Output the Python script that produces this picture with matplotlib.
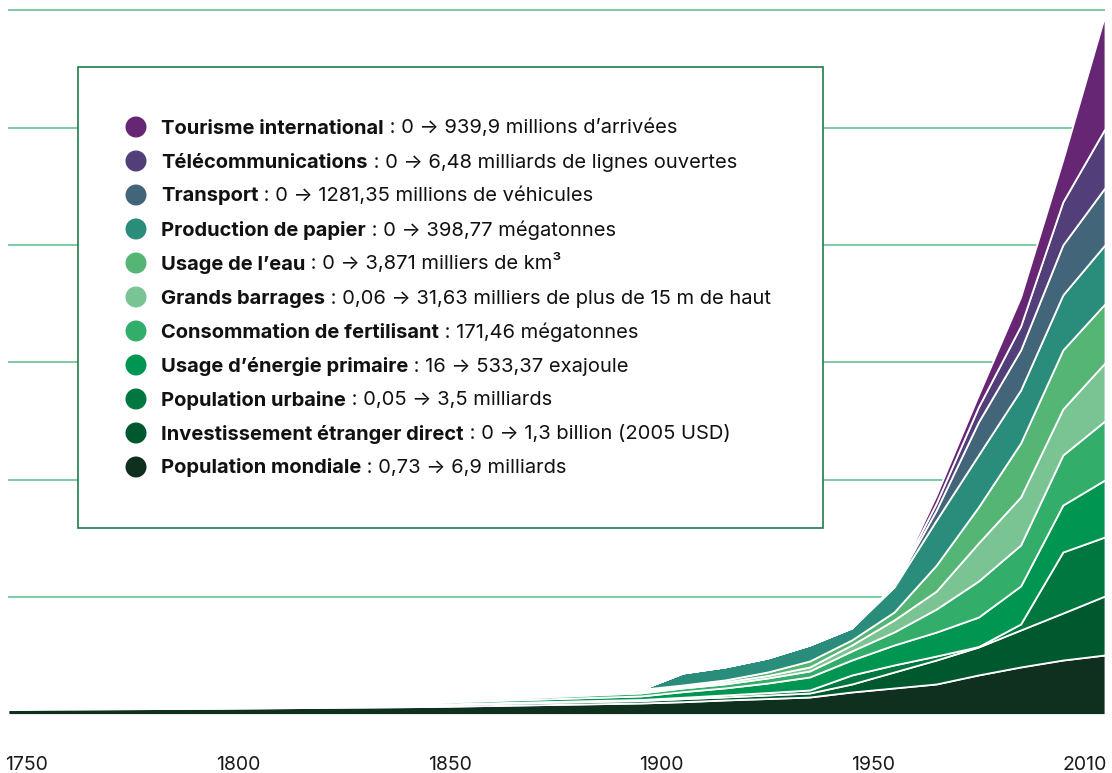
import matplotlib
matplotlib.use("Agg")
import matplotlib.pyplot as plt
from matplotlib.patches import Rectangle, Ellipse

# ---------------- data (gridline spacing = 1 unit) ----------------
years = [1750, 1800, 1850, 1900, 1910, 1920, 1930, 1940, 1950, 1960, 1970, 1980, 1990, 2000, 2010]

population_mondiale = [0.044, 0.053, 0.068, 0.098, 0.109, 0.124, 0.136, 0.149, 0.192, 0.226, 0.260, 0.337, 0.405, 0.464, 0.507]
investissement      = [0.004, 0.007, 0.015, 0.021, 0.026, 0.026, 0.030, 0.034, 0.068, 0.136, 0.204, 0.238, 0.315, 0.400, 0.503]
population_urbaine  = [0.000, 0.002, 0.005, 0.009, 0.012, 0.017, 0.021, 0.026, 0.077, 0.060, 0.034, 0.004, 0.051, 0.520, 0.503]
energie_primaire    = [0.003, 0.004, 0.015, 0.030, 0.048, 0.060, 0.081, 0.111, 0.128, 0.170, 0.204, 0.251, 0.324, 0.400, 0.486]
fertilisant         = [0.000, 0.002, 0.008, 0.026, 0.031, 0.034, 0.043, 0.051, 0.077, 0.111, 0.196, 0.307, 0.349, 0.426, 0.503]
grands_barrages     = [0.002, 0.003, 0.006, 0.013, 0.013, 0.017, 0.021, 0.034, 0.051, 0.102, 0.153, 0.324, 0.409, 0.392, 0.494]
usage_eau           = [0.001, 0.003, 0.007, 0.017, 0.013, 0.017, 0.030, 0.051, 0.043, 0.068, 0.221, 0.307, 0.460, 0.503, 0.503]
papier              = [0.000, 0.000, 0.000, 0.000, 0.102, 0.111, 0.119, 0.136, 0.102, 0.213, 0.383, 0.443, 0.451, 0.469, 0.503]
transport           = [0.000, 0.000, 0.000, 0.000, 0.000, 0.000, 0.000, 0.000, 0.000, 0.009, 0.085, 0.281, 0.341, 0.426, 0.486]
telecommunications  = [0.000, 0.000, 0.000, 0.000, 0.000, 0.000, 0.000, 0.000, 0.000, 0.004, 0.060, 0.128, 0.204, 0.366, 0.503]
tourisme            = [0.000, 0.000, 0.000, 0.000, 0.000, 0.000, 0.000, 0.000, 0.000, 0.004, 0.068, 0.102, 0.247, 0.358, 0.971]

tick_labels = ["1750", "1800", "1850", "1900", "1950", "2010"]
grid_levels = [1, 2, 3, 4, 5, 6]

# legend entries, top to bottom: (bold name, rest)
legend_names = ["Tourisme international", "Télécommunications", "Transport", "Production de papier",
                "Usage de l’eau", "Grands barrages", "Consommation de fertilisant",
                "Usage d’énergie primaire", "Population urbaine", "Investissement étranger direct",
                "Population mondiale"]
legend_rest = [" : 0 → 939,9 millions d’arrivées", " : 0 → 6,48 milliards de lignes ouvertes",
               " : 0 → 1281,35 millions de véhicules", " : 0 → 398,77 mégatonnes",
               " : 0 → 3,871 milliers de km³", " : 0,06 → 31,63 milliers de plus de 15 m de haut",
               " : 171,46 mégatonnes", " : 16 → 533,37 exajoule", " : 0,05 → 3,5 milliards",
               " : 0 → 1,3 billion (2005 USD)", " : 0,73 → 6,9 milliards"]
legend_colors = ["#662673", "#523e78", "#426579", "#2a8c7b", "#55b574", "#7ac494",
                 "#33ad6a", "#009652", "#00773f", "#00582e", "#10301f"]

# ---------------- figure ----------------
FONT = ["Inter", "DejaVu Sans"]
plt.rcParams["font.family"] = FONT

W, H = 1112, 773
fig = plt.figure(figsize=(W / 100, H / 100), dpi=100)
fig.patch.set_facecolor("white")

x0, x1 = 8, 1105
ybase, ytop = 714.5, 8
unit = 117.4
ax = fig.add_axes([x0 / W, (H - ybase) / H, (x1 - x0) / W, (ybase - ytop) / H])
ax.set_xlim(years[0], years[-1])
ax.set_ylim(0, (ybase - ytop) / unit)
ax.axis("off")

for g in grid_levels:
    ax.axhline(g, color="#5bbd88", lw=1.1, zorder=0)

layers = [population_mondiale, investissement, population_urbaine, energie_primaire, fertilisant,
          grands_barrages, usage_eau, papier, transport, telecommunications, tourisme]
stack_colors = legend_colors[::-1]
ax.stackplot(years, *layers, colors=stack_colors, edgecolor="white", linewidth=1.3, zorder=2)

# tick labels (evenly spaced row under the chart)
lab_ax = fig.add_axes([x0 / W, (H - ybase) / H, (x1 - x0) / W, (ybase - ytop) / H], frameon=False)
a = -(26 - x0) / 211.8
b = a + (x1 - x0) / 211.8
lab_ax.set_xlim(a, b)
lab_ax.set_xticks(range(len(tick_labels)))
lab_ax.set_xticklabels(tick_labels, fontsize=14, color="#1a1a1a")
lab_ax.tick_params(axis="x", length=0, pad=30)
lab_ax.set_yticks([])
lab_ax.patch.set_alpha(0)

# legend box
bx0, by0, bx1, by1 = 78, 67, 823, 528
box = Rectangle((bx0 / W, 1 - by1 / H), (bx1 - bx0) / W, (by1 - by0) / H, transform=fig.transFigure,
                facecolor="white", edgecolor="#1f7d4d", lw=1.2, zorder=5)
fig.add_artist(box)

renderer = fig.canvas.get_renderer()
row0, drow = 127, 34.0
for i, (name, rest, col) in enumerate(zip(legend_names, legend_rest, legend_colors)):
    yc = row0 + i * drow
    fig.add_artist(Ellipse((136 / W, 1 - yc / H), 21 / W, 21 / H, transform=fig.transFigure,
                           facecolor=col, edgecolor="none", zorder=6))
    t = fig.text(161 / W, 1 - (yc + 6.5) / H, name, fontsize=14.5, fontweight="bold", color="#111111",
                 va="baseline", ha="left", zorder=6)
    w = t.get_window_extent(renderer).width
    fig.text((161 + w) / W, 1 - (yc + 6.5) / H, rest, fontsize=14.5, color="#111111",
             va="baseline", ha="left", zorder=6)

fig.savefig("out.png", dpi=100, facecolor="white")
